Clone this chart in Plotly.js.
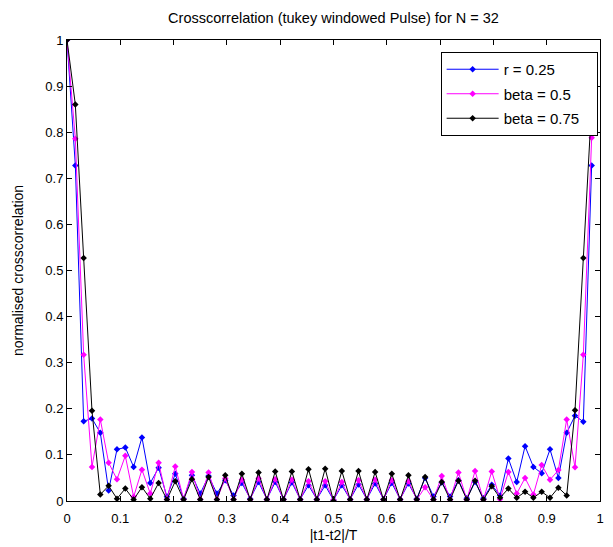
<!DOCTYPE html>
<html>
<head>
<meta charset="utf-8">
<script src="https://cdn.plot.ly/plotly-3.0.1.min.js"></script>
<style>html,body{margin:0;padding:0;background:#fff;}#chart{width:613px;height:547px;}</style>
</head>
<body>
<div id="chart"></div>
<script>
// lag index k = 0..63, x = k/64
const N_POINTS = 64;
const lagX = Array.from({length: N_POINTS}, (_, k) => k / 64);

const seriesNames = ["r = 0.25", "beta = 0.5", "beta = 0.75"];

const rValues = [1.0, 0.728, 0.173, 0.179, 0.148, 0.023, 0.112, 0.116, 0.074, 0.138,
  0.039, 0.072, 0.009, 0.059, 0.005, 0.056, 0.016, 0.054, 0.016, 0.045,
  0.012, 0.039, 0.005, 0.041, 0.004, 0.041, 0.004, 0.040, 0.004, 0.034,
  0.004, 0.034, 0.002, 0.034, 0.004, 0.036, 0.004, 0.038, 0.004, 0.039,
  0.004, 0.038, 0.005, 0.050, 0.010, 0.040, 0.010, 0.045, 0.006, 0.041,
  0.006, 0.035, 0.012, 0.092, 0.041, 0.119, 0.074, 0.060, 0.112, 0.050,
  0.148, 0.185, 0.172, 0.728];

const beta05Values = [1.0, 0.786, 0.317, 0.074, 0.177, 0.083, 0.047, 0.098, 0.009, 0.068,
  0.016, 0.083, 0.004, 0.075, 0.004, 0.063, 0.004, 0.062, 0.004, 0.049,
  0.004, 0.046, 0.003, 0.049, 0.003, 0.047, 0.003, 0.046, 0.003, 0.043,
  0.003, 0.043, 0.002, 0.041, 0.003, 0.045, 0.003, 0.046, 0.003, 0.045,
  0.003, 0.043, 0.003, 0.030, 0.003, 0.054, 0.003, 0.062, 0.003, 0.065,
  0.003, 0.064, 0.004, 0.063, 0.016, 0.050, 0.014, 0.078, 0.046, 0.067,
  0.177, 0.073, 0.317, 0.788];

const beta075Values = [1.0, 0.86, 0.527, 0.196, 0.014, 0.033, 0.005, 0.027, 0.003, 0.030,
  0.005, 0.039, 0.003, 0.043, 0.003, 0.047, 0.003, 0.052, 0.003, 0.056,
  0.003, 0.059, 0.003, 0.062, 0.003, 0.064, 0.003, 0.064, 0.003, 0.069,
  0.003, 0.070, 0.000, 0.065, 0.003, 0.065, 0.003, 0.063, 0.003, 0.059,
  0.003, 0.056, 0.003, 0.052, 0.003, 0.041, 0.003, 0.044, 0.003, 0.044,
  0.003, 0.032, 0.007, 0.027, 0.007, 0.020, 0.007, 0.020, 0.007, 0.029,
  0.012, 0.197, 0.527, 0.86];

const colors = ["#0000ff", "#ff00ff", "#000000"];
const allValues = [rValues, beta05Values, beta075Values];
const NBSP = "\u00a0";

const traces = allValues.map((vals, i) => ({
  x: lagX,
  y: vals,
  type: "scatter",
  mode: "lines+markers",
  name: seriesNames[i] + (i === 2 ? NBSP.repeat(3) : ""),
  legendgroup: "g" + i,
  line: {color: colors[i], width: 1},
  marker: {color: colors[i], size: 5, symbol: "diamond"}
}));

const FONT = "Liberation Sans, Arial, sans-serif";
const layout = {
  width: 613,
  height: 547,
  paper_bgcolor: "#ffffff",
  plot_bgcolor: "#ffffff",
  margin: {l: 67, r: 13, t: 40, b: 46, pad: 0},
  font: {family: FONT, size: 13, color: "#000"},
  showlegend: true,
  title: {
    text: "Crosscorrelation (tukey windowed Pulse) for N = 32",
    font: {family: FONT, size: 14.5, color: "#000"},
    x: 0.5, xref: "paper", xanchor: "center",
    y: 0.967, yref: "container", yanchor: "middle"
  },
  xaxis: {
    range: [0, 1],
    tick0: 0, dtick: 0.1,
    ticks: "inside", ticklen: 5, tickcolor: "#000",
    showline: true, linecolor: "#000", linewidth: 1, mirror: "allticks",
    showgrid: false, zeroline: false,
    ticklabelstandoff: 5,
    tickfont: {family: FONT, size: 13, color: "#000"},
    title: {text: "|t1-t2|/T", font: {family: FONT, size: 14, color: "#000"}, standoff: 5}
  },
  yaxis: {
    range: [0, 1],
    tick0: 0, dtick: 0.1,
    ticks: "inside", ticklen: 5, tickcolor: "#000",
    showline: true, linecolor: "#000", linewidth: 1, mirror: "allticks",
    showgrid: false, zeroline: false,
    tickfont: {family: FONT, size: 13, color: "#000"},
    title: {text: "normalised crosscorrelation", font: {family: FONT, size: 14, color: "#000"}, standoff: 18}
  },
  legend: {
    x: 0.701, y: 0.974, xanchor: "left", yanchor: "top",
    xref: "paper", yref: "paper",
    traceorder: "grouped", tracegroupgap: 2,
    itemwidth: 52,
    bgcolor: "#ffffff", bordercolor: "#000", borderwidth: 1,
    font: {family: FONT, size: 15, color: "#000"}
  }
};

Plotly.newPlot("chart", traces, layout, {displayModeBar: false, staticPlot: true});
</script>
</body>
</html>
